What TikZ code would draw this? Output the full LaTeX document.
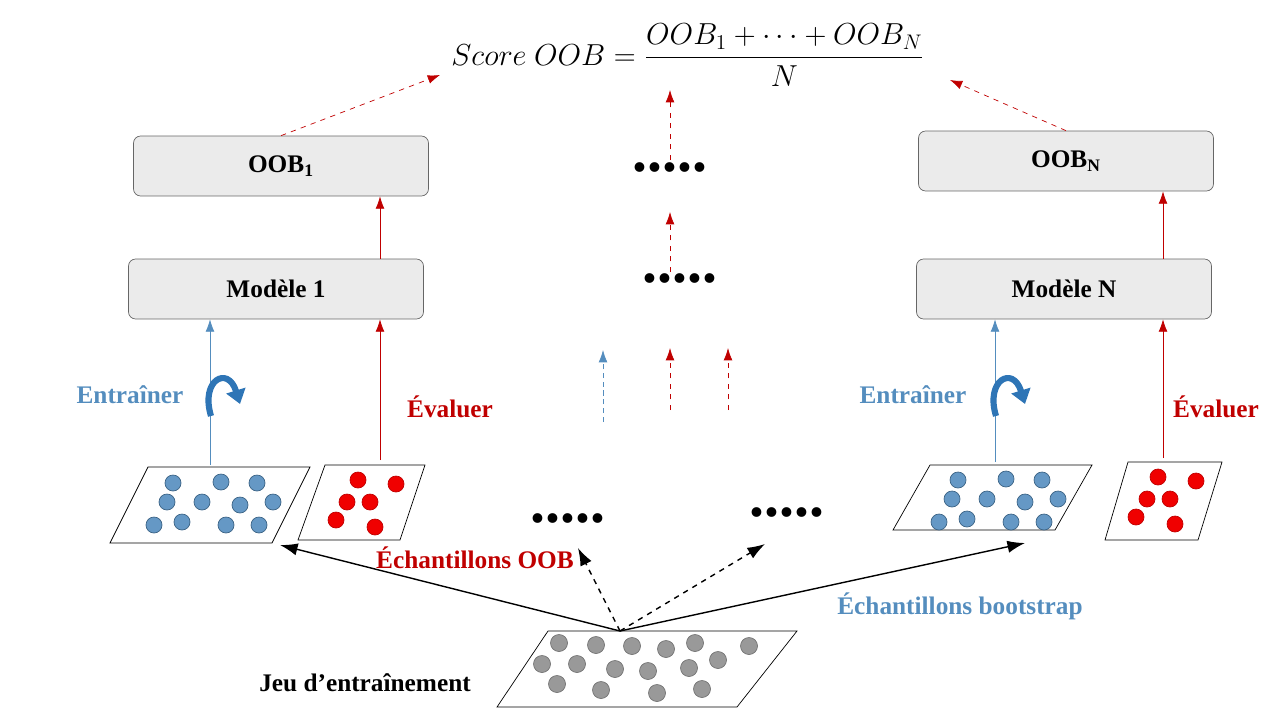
\documentclass[tikz,border=0pt]{standalone}
\usepackage{amsmath}
\usepackage{fontspec}
\setmainfont{Liberation Serif}
\usetikzlibrary{arrows.meta}
\begin{document}
\begin{tikzpicture}[x=0.02cm,y=-0.02cm]
		\definecolor{bleu}{RGB}{84,141,190}
		\definecolor{bleufonce}{RGB}{46,117,182}
		\definecolor{rouge}{RGB}{192,0,0}
		\definecolor{rougevif}{RGB}{240,0,0}
		\tikzstyle{boite}=[draw=black!60,fill=black!8,rounded corners=4pt,minimum width=5.9cm,minimum height=1.2cm,font=\bfseries\Large]
		\tikzstyle{flecherouge}=[-{Latex[length=7pt,width=5pt]},rouge]
		\tikzstyle{flechebleue}=[-{Latex[length=7pt,width=5pt]},bleu]
		\tikzstyle{tirets}=[flecherouge,dashed]
		\tikzstyle{fleche}=[-{Latex[length=10pt,width=7pt]},thick]
		\tikzstyle{points}=[font=\bfseries\fontsize{34}{34}\selectfont,inner sep=0pt]
		\tikzstyle{pbleu}=[circle,fill=bleu!90,draw=bleu!70!black,inner sep=0pt,minimum size=0.32cm]
		\tikzstyle{prouge}=[circle,fill=rougevif,draw=rouge,inner sep=0pt,minimum size=0.32cm]
		\tikzstyle{pgris}=[circle,fill=black!40,draw=black!55,inner sep=0pt,minimum size=0.34cm]
		\useasboundingbox (0,0) rectangle (1280,720);
		% formule
		\node (score) at (688,55) {\LARGE $Score\ OOB=\dfrac{OOB_1+\cdots+OOB_N}{N}$};
		% boites
		\node[boite] (oobA) at (281,166) {OOB\textsubscript{1}};
		\node[boite] (oobN) at (1066,161) {OOB\textsubscript{N}};
		\node[boite] (modA) at (276,289) {Modèle 1};
		\node[boite] (modN) at (1064,289) {Modèle N};
		% echantillons
		\draw (110,543)--(148,467)--(310,467)--(272,543)--cycle;
		\draw (298,540)--(325,465)--(425,465)--(400,540)--cycle;
		\draw (893,530)--(930,465)--(1092,465)--(1055,530)--cycle;
		\draw (1105,540)--(1128,462)--(1222,462)--(1198,540)--cycle;
		\draw (497,707)--(548,631)--(797,631)--(737,707)--cycle;
		\foreach \dx/\dy in {0/0,785/-3}{
			\begin{scope}[shift={(\dx,\dy)}]
			\foreach \x/\y in {173/483,221/482,257/483,167/502,202/502,240/505,273/502,154/525,182/522,226/525,259/525}
				\node[pbleu] at (\x,\y) {};
			\end{scope}}
		\foreach \dx/\dy in {0/0,800/-3}{
			\begin{scope}[shift={(\dx,\dy)}]
			\foreach \x/\y in {358/480,396/484,347/502,370/502,336/520,375/527}
				\node[prouge] at (\x,\y) {};
			\end{scope}}
		\foreach \x/\y in {559/643,596/645,632/646,666/649,695/643,749/646,542/664,577/664,615/669,648/671,689/668,718/660,557/684,601/690,657/693,702/689}
			\node[pgris] at (\x,\y) {};
		% points de suspension
		\node[points] (pA) at (670,168) {.....};
		\node[points] (pB) at (680,278) {.....};
		\node[points] (pC) at (568,518) {.....};
		\node[points] (pD) at (787,512) {.....};
		% coordonnees
		\coordinate (bA) at (210,465);
		\coordinate (rA) at (380,460);
		\coordinate (bN) at (995,462);
		\coordinate (rN) at (1163,458);
		\coordinate (jeu) at (620,631);
		\coordinate (eA) at (280,545);
		\coordinate (eN) at (1025,543);
		\coordinate (eC) at (578,548);
		\coordinate (eD) at (765,544);
		\coordinate (fA) at (440,75);
		\coordinate (fN) at (950,80);
		\coordinate (fM) at (670,90);
		\coordinate (mA) at (670,160);
		\coordinate (mB) at (670,212);
		\coordinate (mC) at (670,272);
		\coordinate (hB) at (603,350);
		\coordinate (lB) at (603,422);
		\coordinate (hR) at (670,348);
		\coordinate (lR) at (670,410);
		\coordinate (hS) at (728,348);
		\coordinate (lS) at (728,410);
		% fleches
		\draw[flechebleue] (bA)--(bA|-modA.south);
		\draw[flecherouge] (rA)--(rA|-modA.south);
		\draw[flecherouge] (rA|-modA.north)--(rA|-oobA.south);
		\draw[flechebleue] (bN)--(bN|-modN.south);
		\draw[flecherouge] (rN)--(rN|-modN.south);
		\draw[flecherouge] (rN|-modN.north)--(rN|-oobN.south);
		\draw[tirets] (oobA.north)--(fA);
		\draw[tirets] (oobN.north)--(fN);
		\draw[tirets] (mA)--(fM);
		\draw[tirets] (mC)--(mB);
		\draw[flechebleue,densely dashed] (lB)--(hB);
		\draw[tirets] (lR)--(hR);
		\draw[tirets] (lS)--(hS);
		\draw[fleche] (jeu)--(eA);
		\draw[fleche] (jeu)--(eN);
		\draw[fleche,dashed] (jeu)--(eC);
		\draw[fleche,dashed] (jeu)--(eD);
		% fleches courbes
		\foreach \dx in {0,785}{
			\draw[bleufonce,line width=3.5pt,-{Triangle[length=8pt,width=11pt]}] (\dx+211,416) .. controls (\dx+200,380) and (\dx+228,365) .. (\dx+240,404);}
		% etiquettes
		\node[bleu,font=\bfseries\Large] (entA) at (130,395) {Entraîner};
		\node[bleu,font=\bfseries\Large] (entN) at (913,395) {Entraîner};
		\node[rouge,font=\bfseries\Large] (evA) at (450,407) {Évaluer};
		\node[rouge,font=\bfseries\Large] (evN) at (1216,407) {Évaluer};
		\node[rouge,font=\bfseries\Large] (echO) at (475,558) {Échantillons OOB};
		\node[bleu,font=\bfseries\Large] (echB) at (960,606) {Échantillons bootstrap};
		\node[font=\bfseries\Large] (jeuT) at (365,683) {Jeu d'entraînement};
	\end{tikzpicture}
\end{document}
